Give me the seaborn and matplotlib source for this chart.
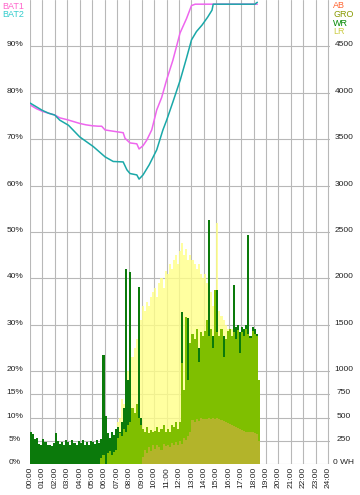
import numpy as np
import seaborn as sns
import matplotlib.pyplot as plt

sns.set_style("white")
plt.rcParams['font.family'] = ['Liberation Sans', 'DejaVu Sans']

# battery state (hour of day, percent)
bat1_hours = [0.0, 0.5, 1.0, 1.5, 2.0, 2.4, 3.0, 3.5, 4.0, 4.5, 5.0, 5.5, 5.77, 6.04, 6.5, 7.0, 7.5,
              7.65, 8.05, 8.6, 8.78, 9.1, 9.4, 9.8, 10.2, 10.6, 11.0, 11.5, 12.08, 12.6, 13.0, 13.3, 18.3]
bat1 = [77.4, 76.6, 76.0, 75.6, 75.2, 74.6, 74.2, 73.8, 73.4, 73.1, 72.9, 72.8, 72.8, 72.0, 71.8, 71.6, 71.4,
        70.2, 69.2, 69.0, 67.9, 68.6, 69.8, 72.0, 76.3, 79.0, 82.8, 87.0, 92.9, 96.0, 98.8, 99.1, 99.1]

bat2_hours = [0.0, 0.5, 1.0, 1.5, 2.0, 2.4, 3.1, 4.0, 5.1, 6.04, 6.7, 7.5, 7.8, 8.05, 8.6, 8.78,
              9.1, 9.6, 10.2, 10.7, 11.0, 11.5, 12.1, 12.6, 13.0, 13.4, 13.85, 14.3, 14.65, 14.75, 18.1, 18.3]
bat2 = [77.8, 77.0, 76.2, 75.6, 75.2, 74.1, 73.0, 70.5, 68.4, 66.2, 65.2, 65.1, 63.4, 62.6, 62.3, 61.4,
        62.3, 64.5, 67.7, 72.0, 74.1, 78.0, 82.8, 87.5, 91.4, 93.2, 94.6, 96.3, 97.8, 99.1, 99.1, 99.5]

# energy per 10 minute slot from 00:00 to 18:30 (WH)
wr = [350, 320, 270, 280, 220, 200,
      270, 240, 200, 210, 190, 230,
      330, 250, 220, 240, 200, 260,
      240, 210, 260, 230, 200, 250,
      230, 260, 200, 240, 210, 250,
      240, 220, 260, 230, 270, 1170,
      520, 330, 280, 350, 310, 380,
      400, 350, 450, 600, 2100, 900,
      2070, 600, 500, 550, 1910, 500,
      300, 280, 320, 260, 300, 280,
      300, 320, 280, 310, 330, 300,
      320, 300, 340, 330, 360, 320,
      400, 1640, 700, 800, 1575, 1200,
      1380, 1300, 1420, 1250, 1400, 1350,
      1400, 1500, 2630, 1420, 1380, 1400,
      1875, 1350, 1420, 1380, 1300, 1400,
      1420, 1350, 1930, 1480, 1500, 1420,
      1480, 1450, 1500, 2470, 1380, 1480,
      1450, 1400, 800]

gro = [0] * 30 + [0, 0, 0, 0, 60, 100,
                  0, 120, 140, 100, 130, 150,
                  280, 330, 300, 380, 350, 420,
                  450, 600, 550, 650, 500, 420,
                  380, 350, 400, 330, 370, 340,
                  360, 400, 340, 380, 420, 350,
                  380, 350, 420, 400, 450, 380,
                  450, 1090, 800, 1585, 900, 1300,
                  1400, 1350, 1450, 1100, 1420, 1380,
                  1430, 1550, 1380, 1450, 1250, 1870,
                  1420, 1380, 1450, 1150, 1350, 1430,
                  1450, 1380, 1420, 1350, 1440, 1200,
                  1420, 1380, 1450, 1400, 1360, 1430,
                  1400, 1380, 900]

lr = [0] * 36 + [0, 0, 0, 0, 0, 100,
                 450, 500, 700, 650, 900, 1000,
                 1000, 1150, 1250, 1350, 1500, 1550,
                 1700, 1650, 1750, 1700, 1800, 1850,
                 1900, 1800, 1950, 2000, 1900, 2080,
                 2050, 2150, 2100, 2200, 2250, 2150,
                 2300, 2380, 2250, 2320, 2200, 2250,
                 2200, 2150, 2100, 2150, 2050, 2000,
                 2050, 1950, 1900, 1850, 1700, 1750,
                 2600, 1650, 1600, 1550, 1500, 1450,
                 1400, 1450, 1350, 1300, 1250, 1200,
                 1150, 1100, 1050, 1000, 950, 900,
                 800, 700, 500]

ab = [0] * 54 + [80, 150, 120, 180, 140, 200,
                 160, 210, 180, 150, 220, 190,
                 210, 180, 230, 200, 240, 210,
                 250, 220, 280, 260, 300, 350,
                 470, 450, 480, 460, 500, 490,
                 480, 490, 500, 480, 500, 490,
                 500, 480, 470, 460, 450, 440,
                 430, 420, 410, 400, 390, 380,
                 370, 360, 350, 345, 340, 340,
                 335, 320, 250]

hour_labels = ["%02d:00" % h for h in range(25)]
pct_ticks = [0, 5, 10, 15, 20, 30, 40, 50, 60, 70, 80, 90]
wh_ticks = [0, 250, 500, 750, 1000, 1500, 2000, 2500, 3000, 3500, 4000, 4500]

slots = np.arange(len(wr)) / 6.0

fig = plt.figure(figsize=(3.6, 4.95), dpi=100)
ax = fig.add_axes([30 / 360, 31 / 495, 300 / 360, 464 / 495])
ax2 = ax.twinx()

# energy bars on the WH scale
ax2.bar(slots, lr, width=1 / 6, align='edge', color='#ffff88', alpha=0.8, linewidth=0)
ax2.bar(slots, wr, width=1 / 6, align='edge', color='#0b7a0b', linewidth=0)
ax2.bar(slots, gro, width=1 / 6, align='edge', color='#7fbf00', linewidth=0)
ax2.bar(slots, ab, width=1 / 6, align='edge', color='#b3b42a', linewidth=0)

# battery lines on the percent scale
sns.lineplot(x=bat1_hours, y=bat1, ax=ax, color='#ee66ee', linewidth=1.1)
sns.lineplot(x=bat2_hours, y=bat2, ax=ax, color='#1aa8a8', linewidth=1.1)

ax.set_xlim(0, 24.15)
ax.set_ylim(0, 100)
ax2.set_ylim(0, 5000)

ax.set_xticks(range(25))
ax.set_xticklabels(hour_labels, rotation=90, fontsize=6, color='#222222')
ax.set_yticks(pct_ticks)
ax.set_yticklabels(["%d%%" % p for p in pct_ticks], fontsize=6, color='#222222', ha='center', va='baseline')
ax2.set_yticks(wh_ticks)
ax2.set_yticklabels([str(w) if w else "0 WH" for w in wh_ticks], fontsize=6, color='#222222',
                    ha='center', va='baseline')
ax.tick_params(axis='x', length=0, pad=2)
ax.tick_params(axis='y', length=0, pad=11)
ax2.tick_params(axis='y', length=0, pad=10)

ax.grid(True, color='#b8b8b8', linewidth=0.8)
ax.set_axisbelow(True)
for a in (ax, ax2):
    for s in a.spines.values():
        s.set_visible(False)
    a.set_xlabel('')
    a.set_ylabel('')

# legend texts
fig.text(2 / 360, 1 - 2 / 495, 'BAT1', color='#ff66cc', fontsize=6.5, va='top')
fig.text(2 / 360, 1 - 10 / 495, 'BAT2', color='#33cccc', fontsize=6.5, va='top')
fig.text(333 / 360, 1 - 1 / 495, 'AB', color='#ff6633', fontsize=6.5, va='top')
fig.text(333 / 360, 1 - 10 / 495, 'GRO', color='#889900', fontsize=6.5, va='top')
fig.text(333 / 360, 1 - 18.5 / 495, 'WR', color='#008800', fontsize=6.5, va='top')
fig.text(333 / 360, 1 - 27 / 495, 'LR', color='#cccc44', fontsize=6.5, va='top')

fig.savefig('out.png', dpi=100)
